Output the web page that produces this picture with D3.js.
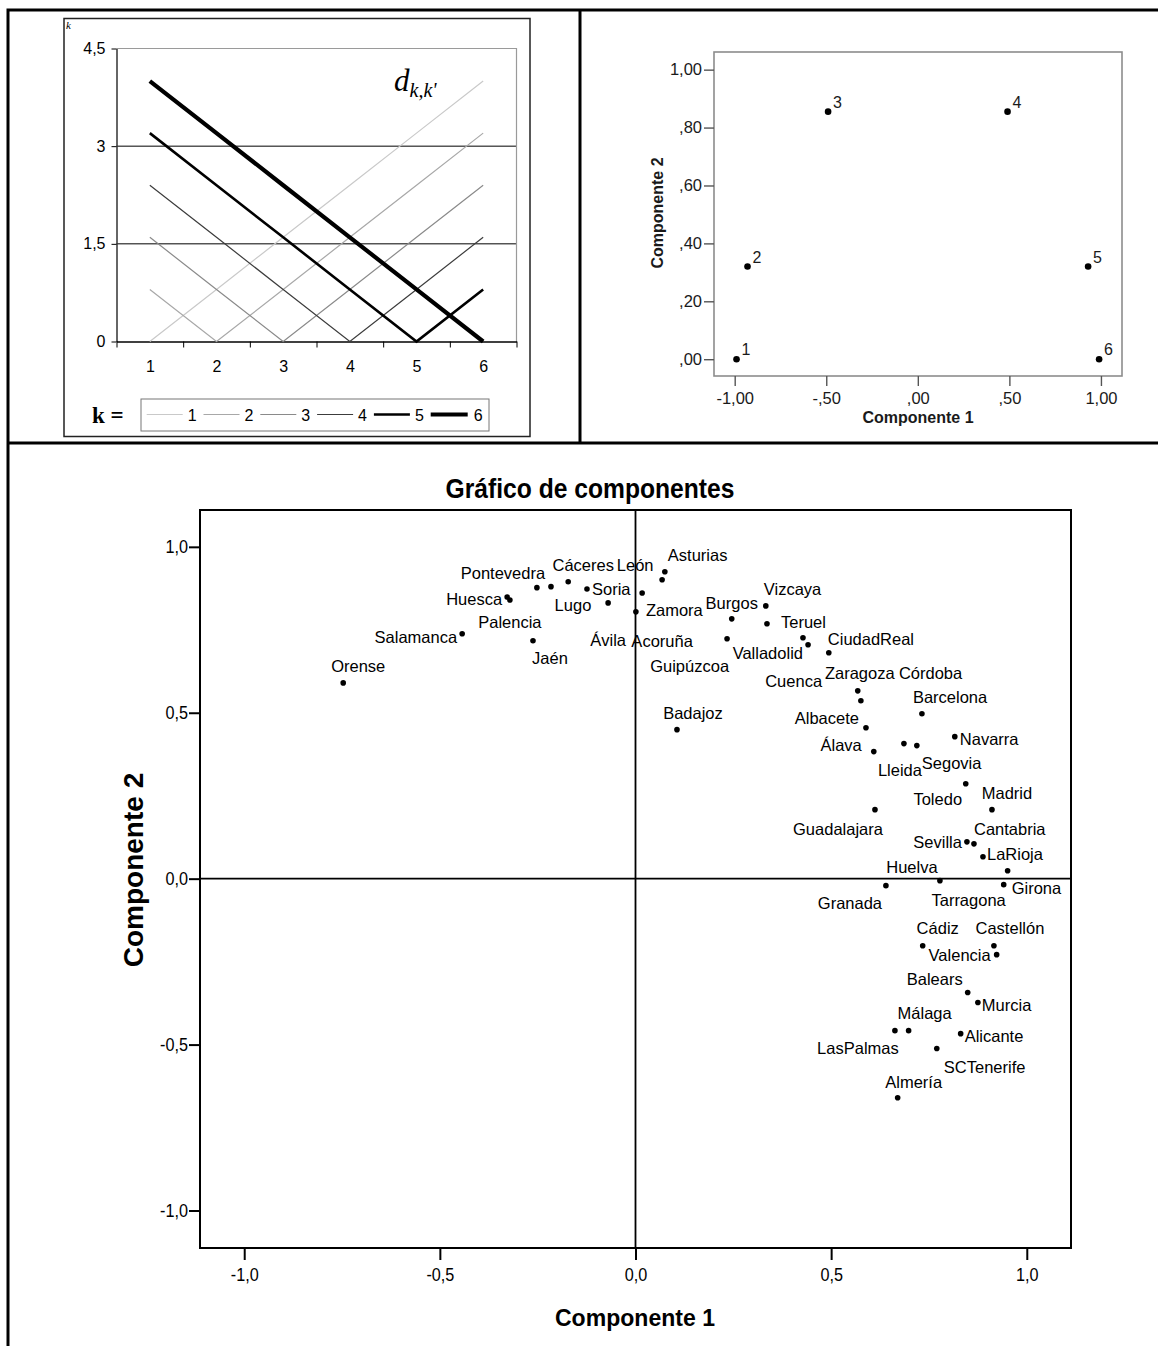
<!DOCTYPE html>
<html>
<head>
<meta charset="utf-8">
<script src="https://cdn.jsdelivr.net/npm/d3@7"></script>
<style>
  html, body { margin: 0; padding: 0; background: #fff; }
  svg { display: block; }
</style>
</head>
<body>
<svg id="page" width="1158" height="1346"></svg>
<script>
// ---------- Panel A: distance d(k,k') between positions ----------
const positions = [1, 2, 3, 4, 5, 6];
const positionLabels = ["1", "2", "3", "4", "5", "6"];
const distK1 = [0.0, 0.8, 1.6, 2.4, 3.2, 4.0];
const distK2 = [0.8, 0.0, 0.8, 1.6, 2.4, 3.2];
const distK3 = [1.6, 0.8, 0.0, 0.8, 1.6, 2.4];
const distK4 = [2.4, 1.6, 0.8, 0.0, 0.8, 1.6];
const distK5 = [3.2, 2.4, 1.6, 0.8, 0.0, 0.8];
const distK6 = [4.0, 3.2, 2.4, 1.6, 0.8, 0.0];
const distTicks = [0, 1.5, 3, 4.5];
const distTickLabels = ["0", "1,5", "3", "4,5"];

// ---------- Panel B: positions projected on two components ----------
const posNames = ["1", "2", "3", "4", "5", "6"];
const posComp1 = [-0.99, -0.93, -0.49, 0.49, 0.93, 0.99];
const posComp2 = [0.00, 0.32, 0.855, 0.855, 0.32, 0.00];
const posXTicks = [-1, -0.5, 0, 0.5, 1];
const posXTickLabels = ["-1,00", "-,50", ",00", ",50", "1,00"];
const posYTicks = [0, 0.2, 0.4, 0.6, 0.8, 1];
const posYTickLabels = [",00", ",20", ",40", ",60", ",80", "1,00"];

// ---------- Panel C: provinces on the two components ----------
const provinces = ["Orense","Salamanca","Huesca","Palencia","Jaén","Pontevedra","Lugo","Cáceres","Soria","Ávila",
  "Zamora","León","Acoruña","Asturias","Guipúzcoa","Burgos","Vizcaya","Teruel","Valladolid","Cuenca",
  "CiudadReal","Zaragoza","Córdoba","Barcelona","Badajoz","Albacete","Álava","Lleida","Segovia","Navarra",
  "Toledo","Madrid","Guadalajara","Sevilla","Cantabria","LaRioja","Tarragona","Huelva","Granada","Girona",
  "Cádiz","Castellón","Valencia","Balears","Murcia","LasPalmas","Málaga","Alicante","SCTenerife","Almería"];
const provComp1 = [-0.747,-0.443,-0.328,-0.321,-0.262,-0.252,-0.216,-0.172,-0.124,-0.070,
  0.001,0.017,0.068,0.075,0.234,0.246,0.333,0.336,0.428,0.441,
  0.494,0.568,0.576,0.732,0.106,0.589,0.609,0.686,0.719,0.816,
  0.844,0.911,0.612,0.847,0.865,0.888,0.951,0.778,0.640,0.941,
  0.734,0.916,0.923,0.849,0.875,0.663,0.698,0.831,0.770,0.670];
const provComp2 = [0.590,0.738,0.849,0.840,0.717,0.877,0.880,0.895,0.873,0.831,
  0.804,0.861,0.901,0.925,0.723,0.783,0.822,0.768,0.726,0.705,
  0.681,0.566,0.536,0.497,0.449,0.455,0.383,0.407,0.401,0.428,
  0.286,0.208,0.208,0.111,0.105,0.066,0.024,-0.006,-0.021,-0.018,
  -0.202,-0.202,-0.229,-0.343,-0.373,-0.458,-0.458,-0.467,-0.512,-0.660];
const compTicks = [-1, -0.5, 0, 0.5, 1];
const compTickLabels = ["-1,0", "-0,5", "0,0", "0,5", "1,0"];

// label placement around each province marker: [anchor, dx, dy] in px
const provLabelPlacement = [
  ["middle",15,-17],["end",-5,3],["end",-5,2],["middle",0,22],["middle",17,17],
  ["middle",-34,-15],["middle",22,18],["middle",15,-17],["start",5,0],["middle",0,37],
  ["start",10,-2],["middle",-7,-28],["middle",0,61],["start",3,-17],["end",2,27],
  ["middle",0,-16],["start",-2,-17],["start",14,-2],["end",0,15],["end",14,36],
  ["start",-1,-14],["middle",2,-18],["start",38,-28],["start",-9,-17],["middle",16,-17],
  ["end",-7,-10],["end",-12,-7],["middle",-4,26],["start",5,17],["start",5,2],
  ["middle",-28,15],["middle",15,-17],["middle",-37,19],["end",-5,0],["start",0,-15],
  ["start",4,-3],["middle",-39,29],["middle",-28,-14],["middle",-36,17],["start",8,3],
  ["middle",15,-18],["middle",16,-18],["end",-6,0],["middle",-33,-13],["start",4,3],
  ["middle",-37,17],["middle",16,-18],["start",4,2],["start",7,18],["middle",16,-16]
];

const SANS = "'Liberation Sans', Arial, sans-serif";
const SERIF = "'Liberation Serif', 'Times New Roman', serif";
const svg = d3.select("#page");

// squeeze a text element horizontally by a factor (narrow type)
function squeeze(sel, factor) {
  sel.each(function () {
    const w = this.getComputedTextLength();
    d3.select(this).attr("textLength", w * factor).attr("lengthAdjust", "spacingAndGlyphs");
  });
}

// ---------- table rules ----------
const rules = svg.append("g").attr("stroke", "#000").attr("stroke-width", 3).attr("fill", "none");
rules.append("path").attr("d", "M8,1346V10H1158");
rules.append("path").attr("d", "M8,443H1158");
rules.append("path").attr("d", "M580,10V443");

// ================= Panel A =================
{
  const g = svg.append("g");
  g.append("rect").attr("x", 64).attr("y", 18.5).attr("width", 466).attr("height", 418)
    .attr("fill", "none").attr("stroke", "#222").attr("stroke-width", 1.5);
  g.append("text").attr("x", 66).attr("y", 29).attr("font-family", SERIF)
    .attr("font-style", "italic").attr("font-size", 11).text("k");

  const x = d3.scaleLinear().domain([0.5, 6.5]).range([116.5, 516.5]);
  const y = d3.scaleLinear().domain([0, 4.5]).range([341.5, 48.5]);

  // gridlines and plot border
  g.append("g").selectAll("line").data(distTicks.filter(v => v > 0 && v < 4.5)).join("line")
    .attr("x1", x(0.5)).attr("x2", x(6.5)).attr("y1", d => y(d)).attr("y2", d => y(d))
    .attr("stroke", "#000").attr("stroke-width", 1);
  g.append("path").attr("d", `M${x(0.5)},${y(4.5)}H${x(6.5)}V${y(0)}`)
    .attr("fill", "none").attr("stroke", "#9a9a9a").attr("stroke-width", 1.2);

  // y axis
  const ya = g.append("g").attr("transform", `translate(${x(0.5)},0)`)
    .call(d3.axisLeft(y).tickValues(distTicks).tickFormat((d, i) => distTickLabels[i])
      .tickSize(5).tickSizeOuter(0).tickPadding(6));
  ya.selectAll("text").attr("font-family", SANS).attr("font-size", 16).attr("fill", "#000");
  ya.select(".domain").attr("stroke", "#333").attr("stroke-width", 1.5);

  // x axis: separators between positions, labels at positions
  const xa = g.append("g").attr("transform", `translate(0,${y(0)})`)
    .call(d3.axisBottom(x).tickValues(d3.range(0.5, 7, 1)).tickFormat("").tickSize(6).tickSizeOuter(0));
  xa.select(".domain").attr("stroke", "#000").attr("stroke-width", 1.5);
  const xl = g.append("g").attr("transform", `translate(0,${y(0)})`)
    .call(d3.axisBottom(x).tickValues(positions).tickFormat((d, i) => positionLabels[i]).tickSize(0).tickPadding(19));
  xl.select(".domain").remove();
  xl.selectAll("text").attr("font-family", SANS).attr("font-size", 16).attr("fill", "#000");

  // series
  const series = [distK1, distK2, distK3, distK4, distK5, distK6];
  const strokes = ["#c9c9c9", "#a8a8a8", "#8a8a8a", "#3c3c3c", "#000", "#000"];
  const widths = [1.2, 1.2, 1.2, 1.2, 2.6, 4.2];
  const line = d3.line().x((d, i) => x(positions[i])).y(d => y(d));
  g.append("g").selectAll("path").data(series).join("path")
    .attr("d", line).attr("fill", "none")
    .attr("stroke", (d, i) => strokes[i]).attr("stroke-width", (d, i) => widths[i])
    .attr("stroke-linecap", "butt");

  // d_{k,k'} annotation
  const ann = g.append("text").attr("x", 394).attr("y", 91).attr("font-family", SERIF)
    .attr("font-style", "italic").attr("font-size", 31);
  ann.append("tspan").text("d");
  ann.append("tspan").attr("font-size", 20).attr("dy", 6).text("k,k'");

  // legend
  const lg = g.append("g");
  lg.append("text").attr("x", 92).attr("y", 423).attr("font-family", SERIF)
    .attr("font-weight", "bold").attr("font-size", 23).text("k =");
  lg.append("rect").attr("x", 141).attr("y", 399).attr("width", 348).attr("height", 32)
    .attr("fill", "none").attr("stroke", "#777").attr("stroke-width", 1);
  const item = lg.selectAll("g.item").data(positionLabels).join("g")
    .attr("transform", (d, i) => `translate(${146.7 + i * 56.8},414.5)`);
  item.append("line").attr("x1", 0).attr("x2", (d, i) => i < 5 ? 36 : 37)
    .attr("stroke", (d, i) => strokes[i]).attr("stroke-width", (d, i) => widths[i]);
  item.append("text").attr("x", (d, i) => i < 5 ? 41 : 43).attr("y", 6)
    .attr("font-family", SANS).attr("font-size", 16).text(d => d);
}

// ================= Panel B =================
{
  const g = svg.append("g");
  const x = d3.scaleLinear().domain([-1.113, 1.115]).range([714, 1122]);
  const y = d3.scaleLinear().domain([-0.058, 1.061]).range([376, 52]);
  g.append("rect").attr("x", 714).attr("y", 52).attr("width", 408).attr("height", 324)
    .attr("fill", "none").attr("stroke", "#8c8c8c").attr("stroke-width", 1.6);

  const ya = g.append("g").attr("transform", "translate(714,0)")
    .call(d3.axisLeft(y).tickValues(posYTicks).tickFormat((d, i) => posYTickLabels[i])
      .tickSize(10).tickSizeOuter(0).tickPadding(2));
  const xa = g.append("g").attr("transform", "translate(0,376)")
    .call(d3.axisBottom(x).tickValues(posXTicks).tickFormat((d, i) => posXTickLabels[i])
      .tickSize(10).tickSizeOuter(0).tickPadding(6));
  [ya, xa].forEach(a => {
    a.select(".domain").remove();
    a.selectAll("line").attr("stroke", "#555").attr("stroke-width", 1.4);
    a.selectAll("text").attr("font-family", SANS).attr("font-size", 16.5).attr("fill", "#1a1a1a");
  });

  g.append("text").attr("x", 918).attr("y", 423).attr("text-anchor", "middle")
    .attr("font-family", SANS).attr("font-weight", "bold").attr("font-size", 16).attr("fill", "#1a1a1a")
    .text("Componente 1");
  g.append("text").attr("transform", "translate(663,213) rotate(-90)").attr("text-anchor", "middle")
    .attr("font-family", SANS).attr("font-weight", "bold").attr("font-size", 16).attr("fill", "#1a1a1a")
    .text("Componente 2");

  const pts = g.selectAll("g.pt").data(posNames).join("g")
    .attr("transform", (d, i) => `translate(${x(posComp1[i])},${y(posComp2[i])})`);
  pts.append("circle").attr("r", 3.3).attr("fill", "#000");
  pts.append("text").attr("x", 5).attr("y", -4).attr("font-family", SANS)
    .attr("font-size", 16).attr("fill", "#1a1a1a").text(d => d);
}

// ================= Panel C =================
{
  const g = svg.append("g");
  const x = d3.scaleLinear().domain([-1.113, 1.113]).range([200, 1071]);
  const y = d3.scaleLinear().domain([-1.113, 1.111]).range([1248, 510]);

  const title = g.append("text").attr("x", 590).attr("y", 498).attr("text-anchor", "middle")
    .attr("font-family", SANS).attr("font-weight", "bold").attr("font-size", 28).attr("fill", "#000")
    .text("Gráfico de componentes");
  squeeze(title, 0.88);

  // reference lines through the origin
  g.append("line").attr("x1", x(0)).attr("x2", x(0)).attr("y1", 510).attr("y2", 1248)
    .attr("stroke", "#000").attr("stroke-width", 1.8);
  g.append("line").attr("x1", 200).attr("x2", 1071).attr("y1", y(0)).attr("y2", y(0))
    .attr("stroke", "#000").attr("stroke-width", 1.8);
  g.append("rect").attr("x", 200).attr("y", 510).attr("width", 871).attr("height", 738)
    .attr("fill", "none").attr("stroke", "#000").attr("stroke-width", 2);

  const ya = g.append("g").attr("transform", "translate(200,0)")
    .call(d3.axisLeft(y).tickValues(compTicks).tickFormat((d, i) => compTickLabels[i])
      .tickSize(11).tickSizeOuter(0).tickPadding(1));
  const xa = g.append("g").attr("transform", "translate(0,1248)")
    .call(d3.axisBottom(x).tickValues(compTicks).tickFormat((d, i) => compTickLabels[i])
      .tickSize(12).tickSizeOuter(0).tickPadding(8));
  [ya, xa].forEach(a => {
    a.select(".domain").remove();
    a.selectAll("line").attr("stroke", "#000").attr("stroke-width", 2);
    a.selectAll("text").attr("font-family", SANS).attr("font-size", 18).attr("fill", "#000");
    squeeze(a.selectAll("text"), 0.9);
  });

  const xt = g.append("text").attr("x", 635).attr("y", 1326).attr("text-anchor", "middle")
    .attr("font-family", SANS).attr("font-weight", "bold").attr("font-size", 24).text("Componente 1");
  squeeze(xt, 0.96);
  g.append("text").attr("transform", "translate(143,870) rotate(-90)").attr("text-anchor", "middle")
    .attr("font-family", SANS).attr("font-weight", "bold").attr("font-size", 28).text("Componente 2");

  const pts = g.selectAll("g.prov").data(provinces).join("g")
    .attr("transform", (d, i) => `translate(${x(provComp1[i])},${y(provComp2[i])})`);
  pts.append("circle").attr("r", 2.8).attr("fill", "#000");
  pts.append("text")
    .attr("text-anchor", (d, i) => provLabelPlacement[i][0])
    .attr("x", (d, i) => provLabelPlacement[i][1])
    .attr("y", (d, i) => provLabelPlacement[i][2] + 6)
    .attr("font-family", SANS).attr("font-size", 16.5).attr("fill", "#000")
    .text(d => d);
}
</script>
</body>
</html>
